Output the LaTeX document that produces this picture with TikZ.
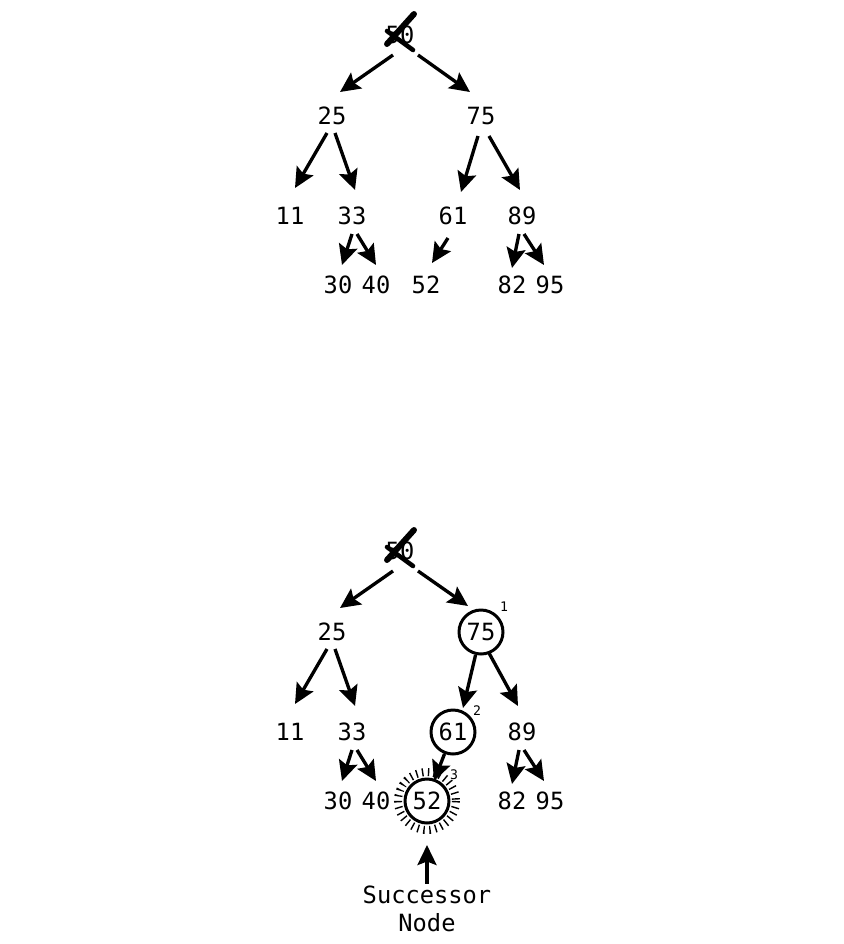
\documentclass[tikz,border=0pt]{standalone}
\usepackage{fontspec}
\setmonofont{DejaVu Sans Mono}
\usetikzlibrary{arrows.meta,calc}

\begin{document}
\begin{tikzpicture}[
    x=0.02cm, y=-0.02cm,
    font=\ttfamily\fontsize{13.5}{16}\selectfont,
    key/.style={inner sep=1pt},
    visited/.style={circle, draw, line width=1.7pt, minimum size=0.88cm, inner sep=0pt},
    step no/.style={font=\ttfamily\fontsize{7.5}{8}\selectfont, inner sep=0pt},
    strike/.style={line width=3.4pt, line cap=round},
    arrow/.style={-{Stealth[length=4mm, width=3.8mm, inset=0.7mm]}, line width=1.9pt}
]
\useasboundingbox (0,0) rectangle (843,944);

% top tree
\node[key] (r1) at (400,35) {50};
\node[key] (a25) at (332,116) {25};
\node[key] (a75) at (481,116) {75};
\node[key] (a11) at (290,216) {11};
\node[key] (a33) at (352,216) {33};
\node[key] (a61) at (453,216) {61};
\node[key] (a89) at (522,216) {89};
\node[key] (a30) at (338,285) {30};
\node[key] (a40) at (376,285) {40};
\node[key] (a52) at (426,285) {52};
\node[key] (a82) at (512,285) {82};
\node[key] (a95) at (550,285) {95};

% strike out the deleted root
\draw[strike] ([shift={(14,-21)}]r1.center) -- ([shift={(-13,9)}]r1.center);
\draw[strike, line width=2.6pt] ([shift={(-13,-4)}]r1.center) -- ([shift={(13,15)}]r1.center);

\draw[arrow] ([shift={(-7,20)}]r1.center) -- ([shift={(8,-24)}]a25.center);
\draw[arrow] ([shift={(18,20)}]r1.center) -- ([shift={(-11,-24)}]a75.center);
\draw[arrow] ([shift={(-5,17)}]a25.center) -- ([shift={(5,-28)}]a11.center);
\draw[arrow] ([shift={(3,17)}]a25.center) -- ([shift={(3,-26)}]a33.center);
\draw[arrow] ([shift={(-3,20)}]a75.center) -- ([shift={(8,-24)}]a61.center);
\draw[arrow] ([shift={(8,20)}]a75.center) -- ([shift={(-2,-26)}]a89.center);
\draw[arrow] ([shift={(0,18)}]a33.center) -- ([shift={(4,-20)}]a30.center);
\draw[arrow] ([shift={(5,18)}]a33.center) -- ([shift={(0,-20)}]a40.center);
\draw[arrow] ([shift={(-5,22)}]a61.center) -- ([shift={(6,-22)}]a52.center);
\draw[arrow] ([shift={(-3,18)}]a89.center) -- ([shift={(0,-17)}]a82.center);
\draw[arrow] ([shift={(2,18)}]a89.center) -- ([shift={(-6,-20)}]a95.center);

% bottom tree: path to the successor
\node[key] (r2) at (400,551) {50};
\node[key] (b25) at (332,632) {25};
\node[visited] (b75) at (481,632) {75};
\node[key] (b11) at (290,732) {11};
\node[key] (b33) at (352,732) {33};
\node[visited] (b61) at (453,732) {61};
\node[key] (b89) at (522,732) {89};
\node[key] (b30) at (338,801) {30};
\node[key] (b40) at (376,801) {40};
\node[visited] (b52) at (427,801) {52};
\node[key] (b82) at (512,801) {82};
\node[key] (b95) at (550,801) {95};
\node[step no] (n1) at (504,607) {1};
\node[step no] (n2) at (477,711) {2};
\node[step no] (n3) at (454,775) {3};
\node[align=center, inner sep=1pt] (succ) at (427,909) {Successor\\Node};

\draw[strike] ([shift={(14,-21)}]r2.center) -- ([shift={(-13,9)}]r2.center);
\draw[strike, line width=2.6pt] ([shift={(-13,-4)}]r2.center) -- ([shift={(13,15)}]r2.center);

% halo round the successor
\draw[line width=0.16cm, dash pattern=on 0.8pt off 2.6pt] (b52.center) circle (29);

\draw[arrow] ([shift={(-7,20)}]r2.center) -- ([shift={(8,-24)}]b25.center);
\draw[arrow] ([shift={(18,20)}]r2.center) -- ([shift={(-13,-26)}]b75.center);
\draw[arrow] ([shift={(-5,17)}]b25.center) -- ([shift={(5,-28)}]b11.center);
\draw[arrow] ([shift={(3,17)}]b25.center) -- ([shift={(3,-26)}]b33.center);
\draw[arrow] (b75) -- ([shift={(10,-24)}]b61.center);
\draw[arrow] ([shift={(8,21)}]b75.center) -- ([shift={(-4,-26)}]b89.center);
\draw[arrow] ([shift={(0,18)}]b33.center) -- ([shift={(4,-20)}]b30.center);
\draw[arrow] ([shift={(5,18)}]b33.center) -- ([shift={(0,-20)}]b40.center);
\draw[arrow] (b61) -- ([shift={(7,-20)}]b52.center);
\draw[arrow] ([shift={(-3,18)}]b89.center) -- ([shift={(0,-17)}]b82.center);
\draw[arrow] ([shift={(2,18)}]b89.center) -- ([shift={(-6,-20)}]b95.center);
\draw[arrow] (succ.north) -- ([shift={(0,44)}]b52.center);
\end{tikzpicture}
\end{document}
